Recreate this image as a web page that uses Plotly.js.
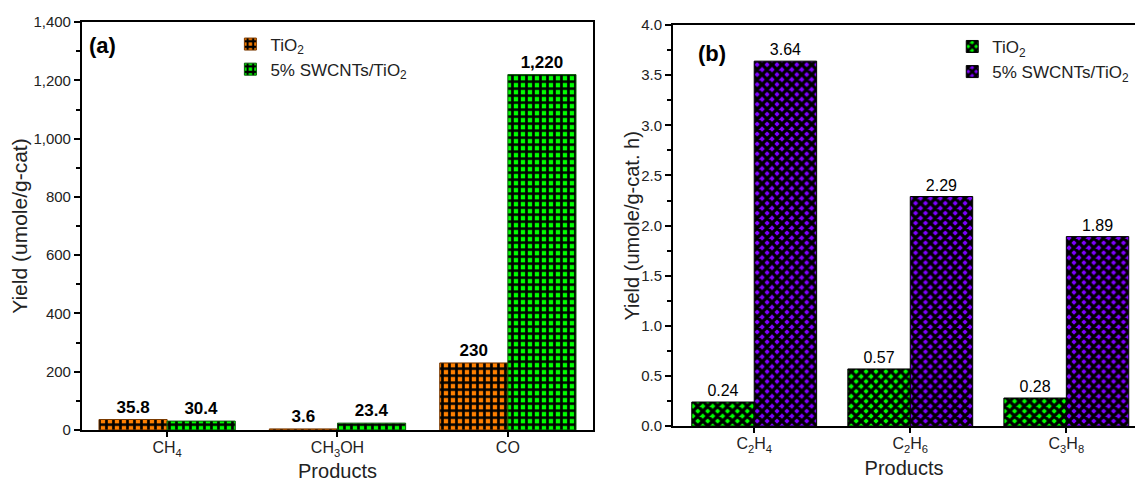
<!DOCTYPE html>
<html>
<head>
<meta charset="utf-8">
<script src="https://cdn.plot.ly/plotly-3.0.1.min.js"></script>
<style>html,body{margin:0;padding:0;background:#fff;}#chart{width:1135px;height:482px;}</style>
</head>
<body>
<div id="chart"></div>
<script>
// Panel (a) data
const categoriesA = ["CH<sub>4</sub>", "CH<sub>3</sub>OH", "CO"];
const tio2A = [35.8, 3.6, 230];
const swcntA = [30.4, 23.4, 1220];
// Panel (b) data
const categoriesB = ["C<sub>2</sub>H<sub>4</sub>", "C<sub>2</sub>H<sub>6</sub>", "C<sub>3</sub>H<sub>8</sub>"];
const tio2B = [0.24, 0.57, 0.28];
const swcntB = [3.64, 2.29, 1.89];
const seriesNames = ["TiO<sub>2</sub>", "5% SWCNTs/TiO<sub>2</sub>"];
const minorTickVals = [0.5, 1.5];

const FONT = 'Arial, "Liberation Sans", sans-serif';

const traces = [
  {type:'bar', x:categoriesA, y:tio2A, name:seriesNames[0], xaxis:'x', yaxis:'y', legend:'legend',
   marker:{color:'#FF8000', line:{color:'#7a3a00', width:1},
     pattern:{shape:'+', fgcolor:'#000000', bgcolor:'#FF8000', size:7, solidity:0.62}},
   texttemplate:'%{y:,}', textposition:'outside', cliponaxis:false,
   textfont:{family:FONT, size:17, color:'#000', weight:'bold'}},
  {type:'bar', x:categoriesA, y:swcntA, name:seriesNames[1], xaxis:'x', yaxis:'y', legend:'legend',
   marker:{color:'#00FF00', line:{color:'#0a5a0a', width:1},
     pattern:{shape:'+', fgcolor:'#000000', bgcolor:'#00FF00', size:7, solidity:0.62}},
   texttemplate:'%{y:,}', textposition:'outside', cliponaxis:false,
   textfont:{family:FONT, size:17, color:'#000', weight:'bold'}},
  {type:'bar', x:categoriesB, y:tio2B, name:seriesNames[0], xaxis:'x2', yaxis:'y2', legend:'legend2',
   marker:{color:'#00FF00', line:{color:'#000', width:1},
     pattern:{shape:'x', fgcolor:'#000000', bgcolor:'#00FF00', size:7, solidity:0.72}},
   texttemplate:'%{y:.2f}', textposition:'outside', cliponaxis:false,
   textfont:{family:FONT, size:16, color:'#000'}},
  {type:'bar', x:categoriesB, y:swcntB, name:seriesNames[1], xaxis:'x2', yaxis:'y2', legend:'legend2',
   marker:{color:'#7F00FF', line:{color:'#000', width:1},
     pattern:{shape:'x', fgcolor:'#000000', bgcolor:'#7F00FF', size:7, solidity:0.72}},
   texttemplate:'%{y:.2f}', textposition:'outside', cliponaxis:false,
   textfont:{family:FONT, size:16, color:'#000'}}
];

const axisCommon = {showline:true, linecolor:'#000', linewidth:2, mirror:true, ticks:'outside',
  tickwidth:2, ticklen:6, tickcolor:'#000', showgrid:false, zeroline:false, automargin:false,
  tickfont:{family:FONT, size:15, color:'#222'}};

const layout = {
  width:1135, height:482, margin:{l:0, r:0, t:0, b:0},
  paper_bgcolor:'#fff', plot_bgcolor:'#fff',
  font:{family:FONT, color:'#000'},
  barmode:'group', bargap:0.2, bargroupgap:0,
  xaxis: Object.assign({}, axisCommon, {domain:[0.0722, 0.5225], anchor:'y', type:'category',
    range:[-0.5, 2.5], ticklen:5, ticklabelstandoff:-3, tickfont:{family:FONT, size:16, color:'#222'},
    title:{text:'Products', font:{family:FONT, size:20, color:'#222'}, standoff:7}}),
  yaxis: Object.assign({}, axisCommon, {domain:[0.108, 0.954], anchor:'x', range:[0, 1400],
    dtick:200, tickformat:',', minor:{dtick:100, ticks:'outside', ticklen:4, tickwidth:2, tickcolor:'#000'},
    title:{text:'Yield (umole/g-cat)', font:{family:FONT, size:21, color:'#222'}, standoff:0}}),
  xaxis3: {overlaying:'x', anchor:'y', range:[-0.5, 2.5], tickvals:minorTickVals, showticklabels:false,
    ticks:'outside', ticklen:4, tickwidth:2, tickcolor:'#000', showline:false, showgrid:false, zeroline:false,
    domain:[0.0722, 0.5225]},
  xaxis2: Object.assign({}, axisCommon, {domain:[0.593, 1.0], anchor:'y2', type:'category',
    range:[-0.52, 2.44], ticklen:5, ticklabelstandoff:-3, tickfont:{family:FONT, size:16, color:'#222'},
    title:{text:'Products', font:{family:FONT, size:20, color:'#222'}, standoff:7}}),
  yaxis2: Object.assign({}, axisCommon, {domain:[0.116, 0.948], anchor:'x2', range:[0, 4],
    dtick:0.5, tickformat:'.1f', minor:{dtick:0.25, ticks:'outside', ticklen:4, tickwidth:2, tickcolor:'#000'}}),
  xaxis4: {overlaying:'x2', anchor:'y2', range:[-0.52, 2.44], tickvals:minorTickVals, showticklabels:false,
    ticks:'outside', ticklen:4, tickwidth:2, tickcolor:'#000', showline:false, showgrid:false, zeroline:false,
    domain:[0.593, 1.0]},
  legend: {x:0.203, y:0.945, xanchor:'left', yanchor:'top', bgcolor:'rgba(0,0,0,0)',
    font:{family:FONT, size:17, color:'#222'}, tracegroupgap:2, itemwidth:30},
  legend2: {x:0.839, y:0.94, xanchor:'left', yanchor:'top', bgcolor:'rgba(0,0,0,0)',
    font:{family:FONT, size:17, color:'#222'}, tracegroupgap:2, itemwidth:30},
  annotations: [
    {text:'<b>(a)</b>', xref:'paper', yref:'paper', x:0.077, y:0.905, xanchor:'left', yanchor:'middle',
     showarrow:false, font:{family:FONT, size:22, color:'#000'}},
    {text:'<b>(b)</b>', xref:'paper', yref:'paper', x:0.613, y:0.89, xanchor:'left', yanchor:'middle',
     showarrow:false, font:{family:FONT, size:22, color:'#000'}},
    {text:'Yield (umole/g-cat. h)', xref:'paper', yref:'paper', x:0.5568, y:0.532, xanchor:'center', yanchor:'middle',
     textangle:-90, showarrow:false, font:{family:FONT, size:20, color:'#222'}}
  ],
  showlegend:true
};

Plotly.newPlot('chart', traces, layout, {staticPlot:true, displayModeBar:false});
</script>
</body>
</html>
